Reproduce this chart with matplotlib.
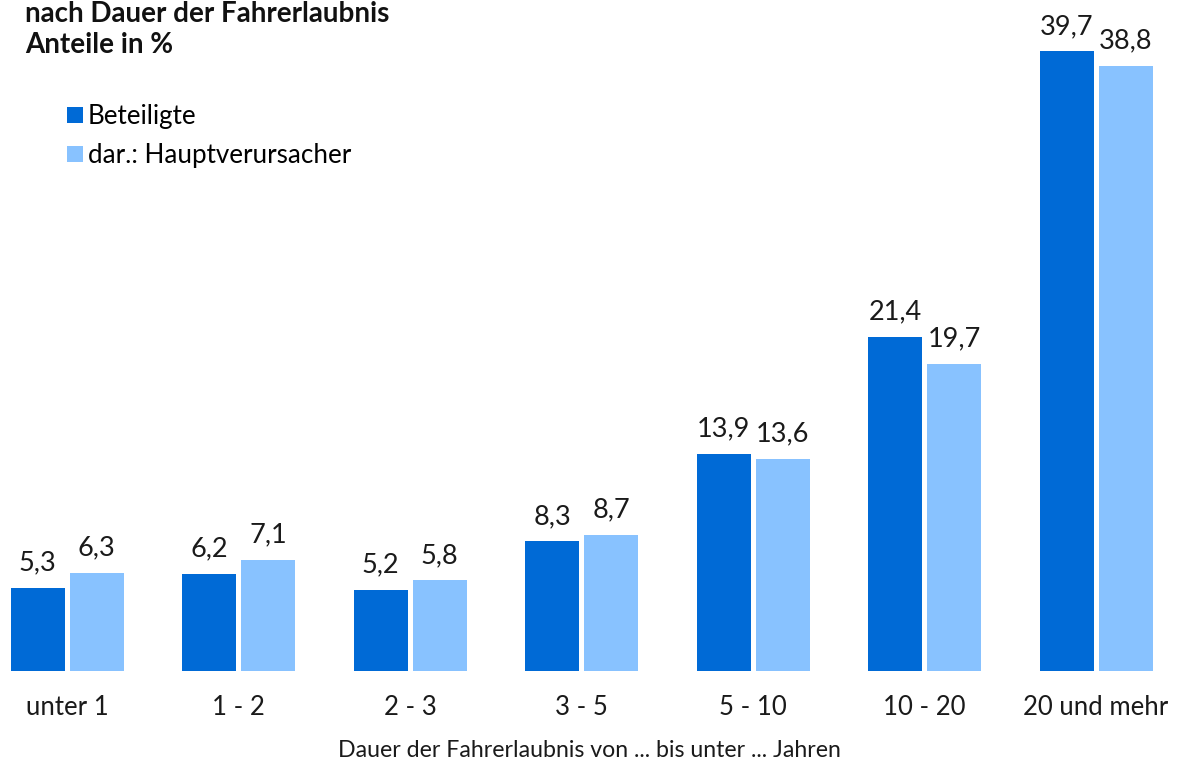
import numpy as np
import matplotlib
matplotlib.use("Agg")
import matplotlib.pyplot as plt

plt.rcParams['font.family'] = ['Lato', 'DejaVu Sans']

categories = ['unter 1', '1 - 2', '2 - 3', '3 - 5', '5 - 10', '10 - 20', '20 und mehr']
beteiligte = [5.3, 6.2, 5.2, 8.3, 13.9, 21.4, 39.7]
hauptverursacher = [6.3, 7.1, 5.8, 8.7, 13.6, 19.7, 38.8]
series_names = ['Beteiligte', 'dar.: Hauptverursacher']

dark_blue = '#006ad6'
light_blue = '#88c2ff'

fig = plt.figure(figsize=(11.78, 7.65), dpi=100)
ax = fig.add_axes([0, 0.1229, 1, 0.8771])

x = np.arange(len(categories))
width = 0.315
off = 0.172

b1 = ax.bar(x - off, beteiligte, width, color=dark_blue, label=series_names[0])
b2 = ax.bar(x + off, hauptverursacher, width, color=light_blue, label=series_names[1])

for bars, vals in ((b1, beteiligte), (b2, hauptverursacher)):
    for rect, v in zip(bars, vals):
        ax.annotate(f'{v:.1f}'.replace('.', ','),
                    (rect.get_x() + rect.get_width() / 2, rect.get_height()),
                    xytext=(0, 9), textcoords='offset points',
                    ha='center', va='bottom', fontsize=19.5, color='#1a1a1a')

ax.set_xlim(-0.391, 6.478)
ax.set_ylim(0, 43.0)
ax.set_xticks(x)
ax.set_xticklabels(categories, fontsize=18.5, color='#1a1a1a')
ax.tick_params(axis='x', length=0, pad=17)
ax.set_yticks([])
for s in ax.spines.values():
    s.set_visible(False)

fig.text(0.5, 0.019, 'Dauer der Fahrerlaubnis von ... bis unter ... Jahren',
         ha='center', va='center', fontsize=16.7, color='#1a1a1a')

# title (cut at the top in the original; kept readable here)
fig.text(0.021, 0.971, 'nach Dauer der Fahrerlaubnis', fontsize=20, fontweight='bold',
         ha='left', va='baseline', color='#111111')
fig.text(0.021, 0.931, 'Anteile in %', fontsize=20, fontweight='bold',
         ha='left', va='baseline', color='#111111')

ax.legend(loc='upper left', bbox_to_anchor=(0.057, 0.864), bbox_transform=fig.transFigure,
          frameon=False, fontsize=18.7, handlelength=0.6, handleheight=0.6,
          handletextpad=0.2, labelspacing=0.55, borderaxespad=0, borderpad=0)

fig.savefig('out.png', dpi=100)
